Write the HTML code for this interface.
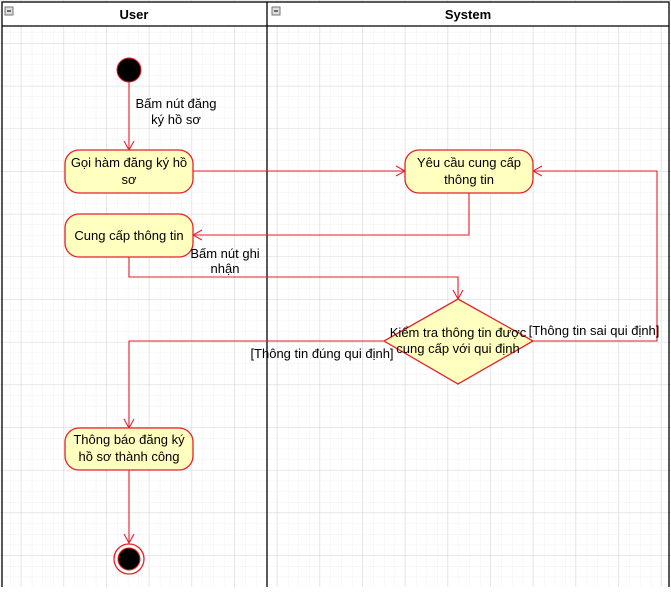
<!DOCTYPE html>
<html><head><meta charset="utf-8"><style>
html,body{margin:0;padding:0;background:#fff}
svg text{font-family:"Liberation Sans",Arial,sans-serif;font-size:13px;fill:#000}
</style></head><body>
<svg width="671" height="587" viewBox="0 0 671 587" xmlns="http://www.w3.org/2000/svg">
<defs>
<pattern id="mn" x="0.3" y="1" width="10.67" height="10.67" patternUnits="userSpaceOnUse"><path d="M10.67 0V10.67M0 10.67H10.67" stroke="#f0f0f0" stroke-width="1" fill="none"/></pattern>
<pattern id="mj" x="-21.4" y="1" width="42.67" height="42.67" patternUnits="userSpaceOnUse"><path d="M42.67 0V42.67M0 42.67H42.67" stroke="#d8d8d8" stroke-width="1" fill="none"/></pattern>
</defs>
<rect x="0" y="0" width="671" height="587" fill="url(#mn)"/>
<rect x="0" y="0" width="671" height="587" fill="url(#mj)"/>
<rect x="2" y="2" width="667" height="24" fill="#fff"/>
<rect x="2" y="2" width="667" height="600" fill="none" stroke="#000" stroke-width="1.3"/>
<line x1="2" y1="26" x2="669" y2="26" stroke="#000" stroke-width="1.3"/>
<line x1="267" y1="2" x2="267" y2="587" stroke="#000" stroke-width="1.3"/>
<rect x="5" y="7" width="8" height="8" fill="#ddd" stroke="#777"/><line x1="7" y1="11" x2="11" y2="11" stroke="#000"/>
<rect x="272" y="7" width="8" height="8" fill="#ddd" stroke="#777"/><line x1="274" y1="11" x2="278" y2="11" stroke="#000"/>
<text x="134" y="19" text-anchor="middle" font-weight="bold">User</text>
<text x="468" y="19" text-anchor="middle" font-weight="bold">System</text>

<g stroke="#e8202a" stroke-width="1.1" fill="none">
<line x1="129" y1="82" x2="129" y2="150"/><path d="M124 141L129 150L134 141"/>
<line x1="193" y1="171" x2="405" y2="171"/><path d="M396 166L405 171L396 176"/>
<path d="M469 193V235H193"/><path d="M202 230L193 235L202 240"/>
<path d="M129 257V277H458V299"/><path d="M453 290L458 299L463 290"/>
<path d="M532 341H657V171H533"/><path d="M542 166L533 171L542 176"/>
<path d="M384 341H129V428"/><path d="M124 419L129 428L134 419"/>
<line x1="129" y1="470" x2="129" y2="543"/><path d="M124 534L129 543L134 534"/>
</g>
<circle cx="129" cy="70" r="12" fill="#000" stroke="#e8202a" stroke-width="1"/>
<circle cx="129" cy="559" r="15" fill="#fff" stroke="#e8202a" stroke-width="1.3"/>
<circle cx="129" cy="559" r="11" fill="#000" stroke="#e8202a" stroke-width="1"/>

<g fill="#ffffc0" stroke="#e8202a" stroke-width="1.3">
<rect x="65" y="150" width="128" height="43" rx="14"/>
<rect x="65" y="214" width="128" height="43" rx="14"/>
<rect x="405" y="150" width="128" height="43" rx="14"/>
<rect x="65" y="428" width="128" height="42" rx="14"/>
<polygon points="458,299 533,341 458,384 384,341"/>
</g>
<text x="129" y="167" text-anchor="middle">Gọi hàm đăng ký hồ</text>
<text x="129" y="184" text-anchor="middle">sơ</text>
<text x="129" y="240" text-anchor="middle">Cung cấp thông tin</text>
<text x="469" y="167" text-anchor="middle">Yêu cầu cung cấp</text>
<text x="469" y="184" text-anchor="middle">thông tin</text>
<text x="129" y="444" text-anchor="middle">Thông báo đăng ký</text>
<text x="129" y="461" text-anchor="middle">hồ sơ thành công</text>
<text x="458" y="337" text-anchor="middle">Kiểm tra thông tin được</text>
<text x="458" y="353" text-anchor="middle">cung cấp với qui định</text>
<text x="176" y="108" text-anchor="middle">Bấm nút đăng</text>
<text x="176" y="124" text-anchor="middle">ký hồ sơ</text>
<text x="225" y="258" text-anchor="middle">Bấm nút ghi</text>
<text x="225" y="273" text-anchor="middle">nhận</text>
<text x="594" y="335" text-anchor="middle" font-size="11.5">[Thông tin sai qui định]</text>
<text x="322" y="358" text-anchor="middle" font-size="11.5">[Thông tin đúng qui định]</text>
</svg>
</body></html>
